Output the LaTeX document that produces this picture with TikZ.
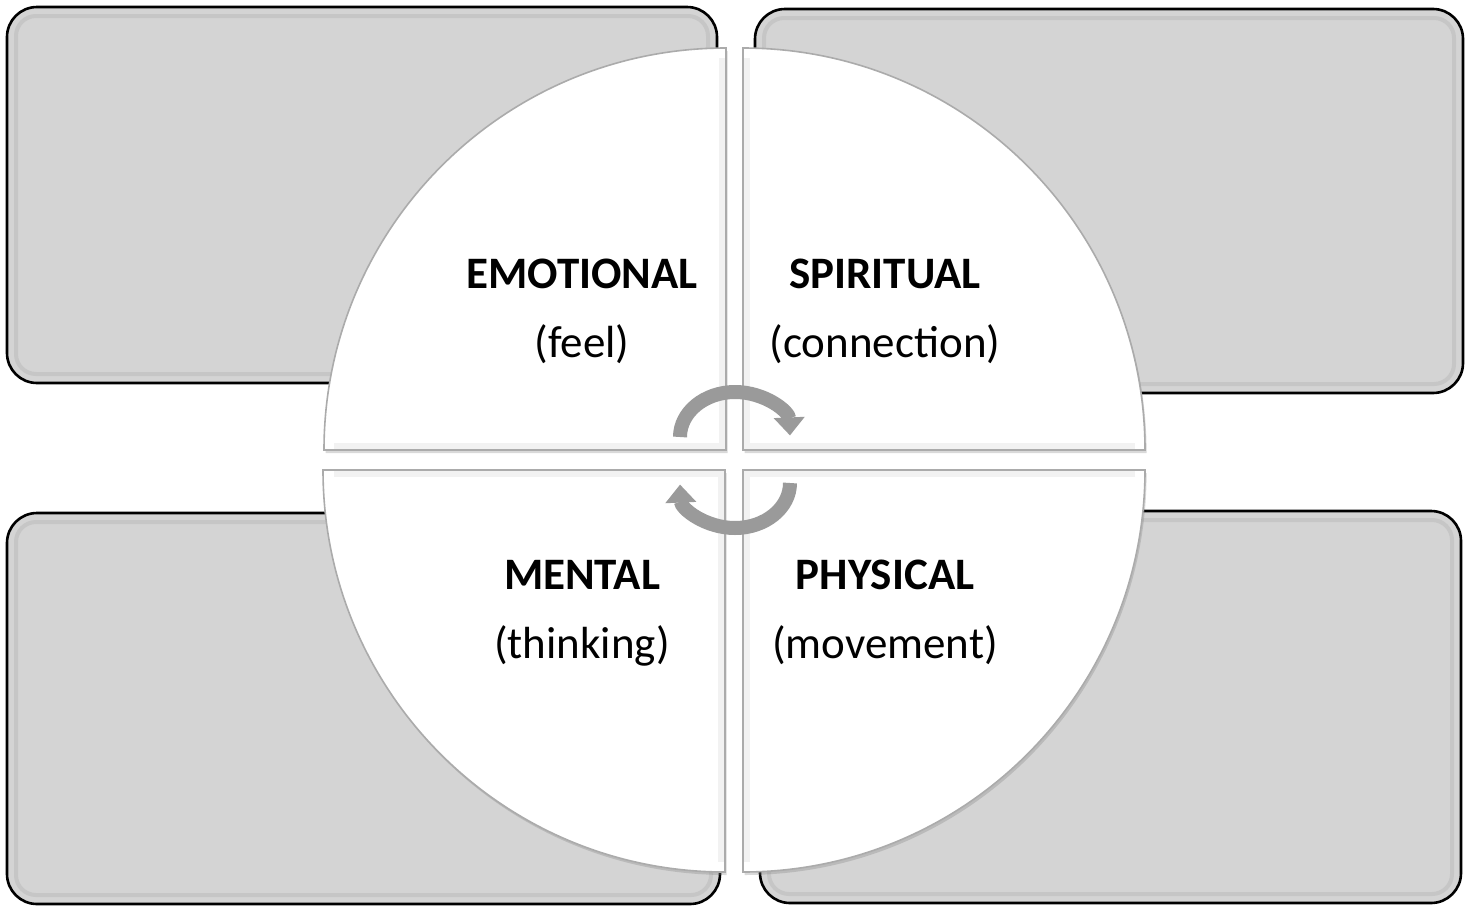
\documentclass[tikz,border=0pt]{standalone}
\usepackage{fontspec}
\setmainfont{Carlito}
\usetikzlibrary{arrows.meta,shadows}
\definecolor{boxgray}{HTML}{D4D4D4}
\definecolor{rimgray}{HTML}{C6C6C6}
\definecolor{slicerim}{HTML}{ABABAB}
\definecolor{arrowgray}{HTML}{9A9A9A}

\begin{document}
\begin{tikzpicture}[x=0.5pt, y=-0.5pt,
    panel/.style={fill=boxgray, draw=black, line width=1.3pt, rounded corners=15pt},
    panelrim/.style={draw=rimgray, line width=2pt, rounded corners=10pt},
    slice/.style={fill=white, draw=slicerim, line width=0.8pt,
                  drop shadow={shadow xshift=0.8pt, shadow yshift=-1.5pt, opacity=0.3}},
    bevel/.style={draw=black!5, line width=3pt},
    ttl/.style={font=\fontsize{22.5}{22.5}\selectfont\bfseries, anchor=base, inner sep=0pt},
    sub/.style={font=\fontsize{22.5}{22.5}\selectfont, anchor=base, inner sep=0pt},
    cyc/.style={draw=arrowgray, line width=7pt, -{Triangle[width=15pt, length=9pt]}}]

% full canvas
\useasboundingbox (0,0) rectangle (1471,905);

% ---- four grey panels in the corners ----
\draw[panel] (7,7) rectangle (717,383);       % top left
\draw[panel] (755,9) rectangle (1463,393);    % top right
\draw[panel] (7,513) rectangle (720,904);     % bottom left
\draw[panel] (760,511) rectangle (1461,903);  % bottom right
\draw[panelrim] (16,16) rectangle (708,374);
\draw[panelrim] (764,18) rectangle (1454,384);
\draw[panelrim] (16,522) rectangle (711,895);
\draw[panelrim] (769,520) rectangle (1452,894);

% ---- exploded pie, one quarter per slice ----
\draw[slice] (726,450) -- (324,450) arc[start angle=180, end angle=270, radius=402] -- cycle;  % emotional
\draw[slice] (743,450) -- (743,48) arc[start angle=270, end angle=360, radius=402] -- cycle;   % spiritual
\draw[slice] (725,470) -- (725,872) arc[start angle=90, end angle=180, radius=402] -- cycle;   % mental
\draw[slice] (743,470) -- (1145,470) arc[start angle=0, end angle=90, radius=402] -- cycle;   % physical

% inner bevel strips along the straight edges
\draw[bevel] (334,446) -- (722,446) -- (722,58);
\draw[bevel] (747,58) -- (747,446) -- (1135,446);
\draw[bevel] (334,474) -- (721,474) -- (721,862);
\draw[bevel] (1135,474) -- (747,474) -- (747,862);

% ---- labels ----
\node[ttl] (emoT) at (582,288) {EMOTIONAL};
\node[sub] (emoS) at (582,357) {(feel)};
\node[ttl] (spiT) at (885,288) {SPIRITUAL};
\node[sub] (spiS) at (885,357) {(connection)};
\node[ttl] (menT) at (582,589) {MENTAL};
\node[sub] (menS) at (582,658) {(thinking)};
\node[ttl] (phyT) at (885,589) {PHYSICAL};
\node[sub] (phyS) at (885,658) {(movement)};

% ---- circular arrows in the middle ----
\draw[cyc] (680,437) arc[start angle=180, end angle=358, x radius=55, y radius=45];
\draw[cyc] (790,483) arc[start angle=0, end angle=178, x radius=55, y radius=45];

\end{tikzpicture}
\end{document}
